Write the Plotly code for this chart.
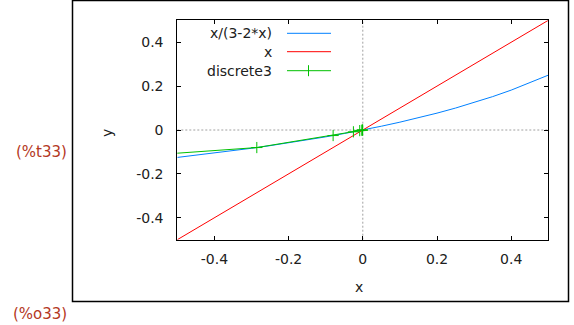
import plotly.graph_objects as go

# ---- data ----
curve_x = [-0.5, -0.45, -0.4, -0.35, -0.3, -0.25, -0.2, -0.15, -0.1, -0.05, 0.0,
           0.05, 0.1, 0.15, 0.2, 0.25, 0.3, 0.35, 0.4, 0.45, 0.5]
curve_y = [-0.125, -0.1154, -0.1053, -0.0946, -0.0833, -0.0714, -0.0588, -0.0455,
           -0.03125, -0.0161, 0.0, 0.0172, 0.0357, 0.0556, 0.0769, 0.1, 0.125,
           0.1522, 0.1818, 0.2143, 0.25]
line_x = [-0.5, 0.5]
line_y = [-0.5, 0.5]
disc_x = [2.0, -2.0, -0.2857, -0.0800, -0.0253, -0.0083, -0.0028, -0.0009, -0.0003]
disc_y = [-2.0, -0.2857, -0.0800, -0.0253, -0.0083, -0.0028, -0.0009, -0.0003, -0.0001]

tick_vals = [-0.4, -0.2, 0, 0.2, 0.4]
tick_text = ["-0.4", "-0.2", "0", "0.2", "0.4"]

legend_names = ["x/(3-2*x)", "x", "discrete3"]
colors = ["#0080ff", "#ff0000", "#00c000"]

W, H = 574, 325
FONT = "DejaVu Sans"
TXT = "#202020"
LABEL_COLOR = "rgb(180,55,35)"

fig = go.Figure()
fig.add_trace(go.Scatter(x=curve_x, y=curve_y, mode="lines",
                         line=dict(color=colors[0], width=1), name=legend_names[0]))
fig.add_trace(go.Scatter(x=line_x, y=line_y, mode="lines",
                         line=dict(color=colors[1], width=1), name=legend_names[1]))
fig.add_trace(go.Scatter(x=disc_x, y=disc_y, mode="lines+markers",
                         line=dict(color=colors[2], width=1),
                         marker=dict(symbol="cross-thin", size=8,
                                     line=dict(color=colors[2], width=1)),
                         name=legend_names[2]))

px = lambda v: v / W
py = lambda v: (H - v) / H

x_dom = [px(177.3), px(548.3)]
y_dom = [py(239.7), py(20.3)]

axis_common = dict(showgrid=False, zeroline=False, showline=True, linecolor="black",
                   linewidth=1, mirror="allticks", ticks="inside", ticklen=4,
                   tickcolor="black", tickwidth=1, tickvals=tick_vals, ticktext=tick_text,
                   tickfont=dict(family=FONT, size=14, color=TXT))

fig.update_layout(
    width=W, height=H, margin=dict(l=0, r=0, t=0, b=0),
    paper_bgcolor="white", plot_bgcolor="white", showlegend=False,
    xaxis=dict(domain=x_dom, range=[-0.5, 0.5], ticklabelstandoff=6, **axis_common),
    yaxis=dict(domain=y_dom, range=[-0.5, 0.5], ticklabelstandoff=10, **axis_common),
)

shapes = []
# zero axes (dotted)
shapes.append(dict(type="line", xref="x", yref="y", x0=-0.5, x1=0.5, y0=0, y1=0,
                   line=dict(color="#a0a0a0", width=1, dash="2px,2px"), layer="below"))
shapes.append(dict(type="line", xref="x", yref="y", x0=0, x1=0, y0=-0.5, y1=0.5,
                   line=dict(color="#a0a0a0", width=1, dash="2px,2px"), layer="below"))
# outer frame
shapes.append(dict(type="rect", xref="paper", yref="paper",
                   x0=px(72.5), x1=px(568.5), y0=py(301.5), y1=py(0.5),
                   line=dict(color="black", width=1.5)))

annotations = []
legend_rows = [33.3, 51.7, 70.7]
for name, col, yy in zip(legend_names, colors, legend_rows):
    annotations.append(dict(text=name, xref="paper", yref="paper", x=px(274), y=py(yy),
                            xanchor="right", yanchor="middle", showarrow=False,
                            font=dict(family=FONT, size=14, color=TXT)))
    shapes.append(dict(type="line", xref="paper", yref="paper", x0=px(287), x1=px(331),
                       y0=py(yy), y1=py(yy), line=dict(color=col, width=1)))
# legend marker for discrete3
shapes.append(dict(type="line", xref="paper", yref="paper", x0=px(308.5), x1=px(308.5),
                   y0=py(legend_rows[2] - 5.5), y1=py(legend_rows[2] + 5.5),
                   line=dict(color=colors[2], width=1)))

annotations.append(dict(text="x", xref="paper", yref="paper", x=px(359), y=py(287),
                        xanchor="center", yanchor="middle", showarrow=False,
                        font=dict(family=FONT, size=14, color=TXT)))
annotations.append(dict(text="y", xref="paper", yref="paper", x=px(107), y=py(133),
                        xanchor="center", yanchor="middle", showarrow=False, textangle=-90,
                        font=dict(family=FONT, size=14, color=TXT)))
annotations.append(dict(text="(%t33)", xref="paper", yref="paper", x=px(69), y=py(152),
                        xanchor="right", yanchor="middle", showarrow=False,
                        font=dict(family="DejaVu Sans", size=15, color=LABEL_COLOR)))
annotations.append(dict(text="(%o33)", xref="paper", yref="paper", x=px(69), y=py(314),
                        xanchor="right", yanchor="middle", showarrow=False,
                        font=dict(family="DejaVu Sans", size=15, color=LABEL_COLOR)))

fig.update_layout(shapes=shapes, annotations=annotations)
fig.write_html("out.html")
